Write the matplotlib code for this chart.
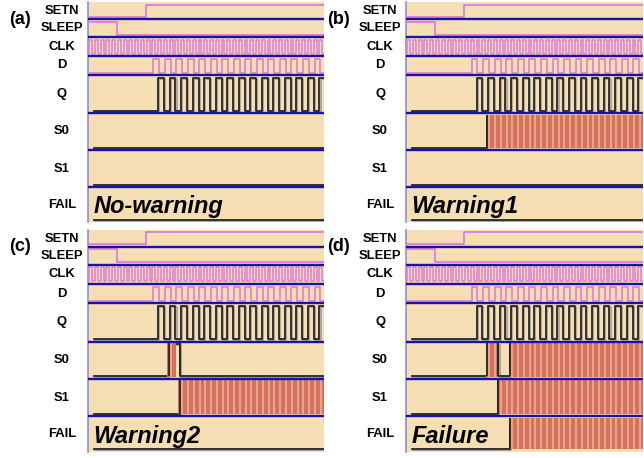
import matplotlib
matplotlib.use('Agg')
import matplotlib.pyplot as plt
import matplotlib.patheffects as pe
from matplotlib.patches import Rectangle
from matplotlib.transforms import blended_transform_factory

# ---------------- data (times in clock periods) ----------------
signals = ['SETN', 'SLEEP', 'CLK', 'D', 'Q', 'S0', 'S1', 'FAIL']
panel_tags = ['(a)', '(b)', '(c)', '(d)']
panel_notes = ['No-warning', 'Warning1', 'Warning2', 'Failure']

t_end = 41.0
setn_rise = 10.1
sleep_fall = 5.1
clk_period = 1.0
clk_first_rise = 0.2
d_first_rise = 11.35
d_period = 2.0
q_start = 1.1
q_first_rise = 12.2
q_period = 2.0

# status signals: toggle times (start low) and red "unstable" intervals
s0_edges = [[], [14.05], [14.1, 16.0], [13.95, 16.0, 18.0]]
s1_edges = [[], [], [15.95], [15.95]]
fail_edges = [[], [], [], [18.0]]
s0_red = [[], [(14.0, 41.0)], [(13.8, 15.25)], [(13.9, 16.0), (18.0, 41.0)]]
s1_red = [[], [], [(15.6, 41.0)], [(15.9, 41.0)]]
fail_red = [[], [], [], [(18.0, 41.0)]]

# ---------------- style / layout ----------------
W, H = 644, 458
WHEAT = '#F6DEB4'
PINK = '#E07CD6'
BLUE = '#1414A8'
BLACK = '#262626'
RED = '#D6725A'
STRIPE = '#EDB7A4'
BORDER = '#8C8CE6'
FONT = 'Liberation Sans'

row_h = [17, 18, 19, 19, 38, 37, 37, 35]
row_top = [sum(row_h[:i]) for i in range(len(row_h))]
total_h = sum(row_h)
# pixel boxes of the four panels: (x0, y0, x1, y1)
boxes = [(88, 2, 324, 222), (406, 2, 643, 222),
         (88, 229.5, 324, 451.5), (406, 229.5, 643, 451.5)]

fig = plt.figure(figsize=(W / 100, H / 100), dpi=100)
fig.patch.set_facecolor('white')


def periodic_edges(first, period, t_stop):
    e = []
    t = first
    while t < t_stop:
        e.append(t)
        t += period / 2.0
    return e


def step_xy(t0, t1, level0, edges, hi, lo):
    xs, ys = [t0], [hi if level0 else lo]
    lvl = level0
    for e in edges:
        if e <= t0 or e >= t1:
            continue
        xs.append(e); ys.append(hi if lvl else lo)
        lvl = not lvl
        xs.append(e); ys.append(hi if lvl else lo)
    xs.append(t1); ys.append(hi if lvl else lo)
    return xs, ys


clk_edges = periodic_edges(clk_first_rise, clk_period, t_end)
d_edges = periodic_edges(d_first_rise, d_period, t_end)
q_edges = periodic_edges(q_first_rise, q_period, t_end)

shadow = [pe.SimpleLineShadow(offset=(0.8, -0.8), shadow_color='#888888', alpha=0.7), pe.Normal()]

for p in range(4):
    x0, y0, x1, y1 = boxes[p]
    ax = fig.add_axes([x0 / W, 1 - y1 / H, (x1 - x0) / W, (y1 - y0) / H])
    ax.set_xlim(0, t_end)
    ax.set_ylim(total_h, 0)
    ax.set_facecolor(WHEAT)
    ax.set_xticks([]); ax.set_yticks([])
    for s in ['top', 'right', 'bottom']:
        ax.spines[s].set_visible(False)
    ax.spines['left'].set_color(BORDER)
    ax.spines['left'].set_linewidth(1.2)

    for i in range(1, len(row_h)):
        ax.axhline(row_top[i], color=BLUE, lw=1.7, zorder=6)

    def levels(i):
        return row_top[i] + 2.5, row_top[i] + row_h[i] - 2.5

    # stimulus (pink)
    hi, lo = levels(0)
    ax.plot(*step_xy(0, t_end, False, [setn_rise], hi, lo), color=PINK, lw=1.3, zorder=4)
    hi, lo = levels(1)
    ax.plot(*step_xy(0, t_end, True, [sleep_fall], hi, lo), color=PINK, lw=1.3, zorder=4)
    hi, lo = levels(2)
    ax.plot(*step_xy(0, t_end, False, clk_edges, hi, lo), color=PINK, lw=1.1, zorder=4)
    hi, lo = levels(3)
    ax.plot(*step_xy(0, t_end, False, d_edges, hi, lo), color=PINK, lw=1.2, zorder=4)

    # Q
    hi, lo = levels(4)
    ax.plot(*step_xy(q_start, t_end, False, q_edges, hi, lo), color=BLACK, lw=1.3,
            zorder=4, path_effects=shadow)

    # status rows
    for ri, edges, reds in [(5, s0_edges[p], s0_red[p]), (6, s1_edges[p], s1_red[p]),
                            (7, fail_edges[p], fail_red[p])]:
        hi, lo = levels(ri)
        ax.plot(*step_xy(q_start, t_end, False, edges, hi, lo), color=BLACK, lw=1.3,
                zorder=3, path_effects=shadow)
        top = row_top[ri] + 1.5
        for (a, b) in reds:
            ax.add_patch(Rectangle((a, top), b - a, lo - top + 0.5, facecolor=RED,
                                   edgecolor='none', zorder=4))
            k = int(a)
            while k + 0.4 < b:
                if k + 0.4 > a:
                    ax.vlines(k + 0.4, top, lo + 0.5, color=STRIPE, lw=1.1, zorder=4.5)
                k += 1
        if edges:
            ax.vlines(edges, hi - 1.0, lo, color=BLACK, lw=1.3, zorder=5)

    # signal names
    tr = blended_transform_factory(ax.transAxes, ax.transData)
    for i, name in enumerate(signals):
        yc = row_top[i] + row_h[i] / 2 + (1.0 if i == 0 else 0)
        ax.text(-26 / (x1 - x0), yc, name, transform=tr, ha='center', va='center',
                fontsize=9.4, fontweight='bold', family=FONT, clip_on=False)

    ax.text(-68 / (x1 - x0), 17, panel_tags[p], transform=tr, ha='center', va='center',
            fontsize=13, fontweight='bold', family=FONT, clip_on=False)

    ax.text(0.95, row_top[7] + 26.5, panel_notes[p], ha='left', va='baseline',
            fontsize=17, fontweight='bold', style='italic', family=FONT, zorder=7)

fig.savefig('out.png', dpi=100)
